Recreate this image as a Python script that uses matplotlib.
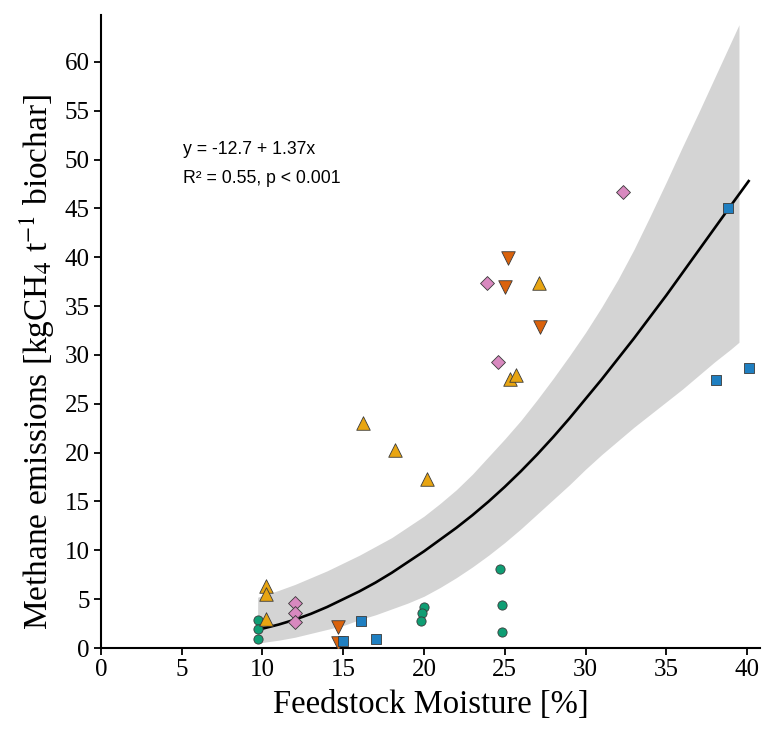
import matplotlib.pyplot as plt
import numpy as np

plt.rcParams['font.family'] = ['Liberation Serif', 'DejaVu Serif']
plt.rcParams['mathtext.fontset'] = 'stix'

# scatter points, one list pair per feedstock group
circ_x = [9.7, 9.7, 9.7, 20.0, 19.9, 19.8, 24.7, 24.8, 24.8]
circ_y = [2.9, 1.9, 0.9, 4.2, 3.6, 2.8, 8.1, 4.4, 1.6]

up_x = [10.2, 10.2, 10.2, 16.2, 18.2, 20.2, 25.3, 25.7, 27.1]
up_y = [6.3, 5.5, 3.0, 23.0, 20.3, 17.3, 27.5, 27.9, 37.4]

down_x = [14.7, 14.7, 25.2, 25.0, 27.2]
down_y = [2.2, 0.5, 39.9, 37.0, 32.9]

dia_x = [12.0, 12.0, 12.0, 23.9, 24.6, 32.3]
dia_y = [4.6, 3.6, 2.7, 37.4, 29.3, 46.7]

sq_x = [15.0, 16.1, 17.0, 38.1, 40.1, 38.8]
sq_y = [0.7, 2.8, 0.9, 27.4, 28.7, 45.0]

# fitted curve and confidence band
fit_x = [9.8, 11, 12, 13, 14, 15, 16, 17, 18, 19, 20, 21, 22, 23, 24, 25,
         26, 27, 28, 29, 30, 31, 32, 33, 34, 35, 36, 37, 38, 39, 40.1]
fit_y = [1.9, 2.4, 2.9, 3.5, 4.2, 5.0, 5.8, 6.7, 7.7, 8.8, 9.9, 11.1, 12.3, 13.6, 15.0, 16.5,
         18.1, 19.8, 21.6, 23.5, 25.5, 27.5, 29.6, 31.7, 33.9, 36.1, 38.4, 40.7, 43.0, 45.3, 47.8]

band_x = [9.7, 11, 12, 13, 14, 15, 16, 17, 18, 19, 20, 21, 22, 23, 24, 25,
          26, 27, 28, 29, 30, 31, 32, 33, 34, 35, 36, 37, 38, 39, 39.5]
band_lo = [0.5, 0.8, 1.1, 1.5, 1.9, 2.3, 2.9, 3.4, 4.0, 4.6, 5.3, 6.2, 7.2, 8.3, 9.5, 10.8,
           12.2, 13.7, 15.2, 16.7, 18.3, 19.8, 21.2, 22.6, 23.9, 25.2, 26.5, 27.9, 29.3, 30.6, 31.3]
band_hi = [5.2, 5.9, 6.5, 7.2, 7.9, 8.7, 9.5, 10.4, 11.3, 12.4, 13.5, 14.8, 16.2, 17.8, 19.6, 21.4,
           23.3, 25.4, 27.6, 29.9, 32.3, 34.9, 37.7, 40.8, 44.2, 47.7, 51.3, 54.8, 58.4, 62.0, 63.8]

fig = plt.figure(figsize=(7.75, 7.29), dpi=100)
ax = fig.add_axes([0.1303, 0.1111, 0.8503, 0.8683])

ax.fill_between(band_x, band_lo, band_hi, color='#d4d4d4', lw=0, zorder=1)
ax.plot(fit_x, fit_y, color='black', lw=1.9, zorder=2)

ec = '#3a3a3a'
ax.scatter(circ_x, circ_y, marker='o', s=44, c='#0f9e74', edgecolors=ec, linewidths=0.6, zorder=3)
ax.scatter(up_x, up_y, marker='^', s=95, c='#e8a512', edgecolors=ec, linewidths=0.6, zorder=3)
ax.scatter(down_x, down_y, marker='v', s=95, c='#da620c', edgecolors=ec, linewidths=0.6, zorder=3)
ax.scatter(dia_x, dia_y, marker='D', s=50, c='#d889bf', edgecolors=ec, linewidths=0.6, zorder=3)
ax.scatter(sq_x, sq_y, marker='s', s=52, c='#1f7fc1', edgecolors=ec, linewidths=0.6, zorder=4)

sans = ['Liberation Sans', 'DejaVu Sans']
ax.text(0.124, 0.787, 'y = -12.7 + 1.37x', transform=ax.transAxes,
        family=sans, fontsize=12.7, va='center', ha='left')
ax.text(0.124, 0.742, 'R² = 0.55, p < 0.001', transform=ax.transAxes,
        family=sans, fontsize=12.7, va='center', ha='left')

ax.set_xlim(0, 40.8)
ax.set_ylim(0, 64.8)
ax.set_xticks(np.arange(0, 41, 5))
ax.set_yticks(np.arange(0, 61, 5))

for s in ['top', 'right']:
    ax.spines[s].set_visible(False)
for s in ['left', 'bottom']:
    ax.spines[s].set_linewidth(1.5)
ax.tick_params(direction='out', length=5, width=1.3, labelsize=18, pad=3)

ax.set_xlabel('Feedstock Moisture [%]', fontsize=23.5, labelpad=6)
ax.set_ylabel('Methane emissions [kgCH$_4$ t$^{-1}$ biochar]', fontsize=24)
ax.yaxis.set_label_coords(-0.066, 0.452)

fig.savefig('out.png', dpi=100)
